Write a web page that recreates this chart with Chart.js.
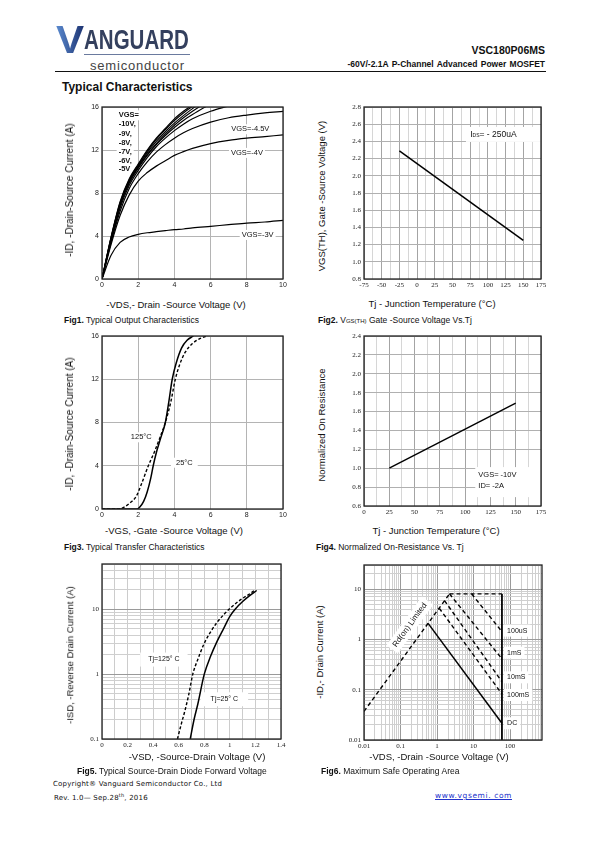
<!DOCTYPE html>
<html>
<head>
<meta charset="utf-8">
<script src="https://cdn.jsdelivr.net/npm/chart.js@4.4.1/dist/chart.umd.min.js"></script>
<style>
  html, body { margin: 0; padding: 0; background: #fff; }
  body { width: 595px; height: 842px; position: relative; overflow: hidden; font-family: "Liberation Sans", Arial, sans-serif; color: #111; }
  .t { position: absolute; white-space: nowrap; line-height: 1; }
  canvas { position: absolute; }
</style>
</head>
<body>

<!-- header -->
<div class="t" style="left:56px;top:20px;font-weight:bold;font-size:39px;background:linear-gradient(90deg,#5b8bd0,#1c3270);-webkit-background-clip:text;background-clip:text;color:transparent;transform:scaleX(1.08);transform-origin:left top;">V</div>
<div class="t" style="left:84px;top:27px;font-weight:bold;font-size:27px;color:#34405e;transform:scaleX(0.76);transform-origin:left top;">ANGUARD</div>
<div style="position:absolute;left:84px;top:54px;width:106px;height:1px;background:#6a7a9e;"></div>
<div class="t" style="left:90px;top:59px;font-size:13px;letter-spacing:0.8px;color:#444;">semiconductor</div>
<div style="position:absolute;left:55px;top:71px;width:491px;height:1px;background:#111;"></div>
<div class="t" style="right:50px;top:45px;font-weight:bold;font-size:10.5px;">VSC180P06MS</div>
<div class="t" style="right:50px;top:59.5px;font-weight:bold;font-size:8.5px;word-spacing:1px;">-60V/-2.1A P-Channel Advanced Power MOSFET</div>
<div class="t" style="left:62px;top:80.5px;font-weight:bold;font-size:12px;">Typical Characteristics</div>

<!-- footer -->
<div class="t" style="left:53px;top:781px;font-family:'DejaVu Sans';font-size:7px;letter-spacing:0.2px;">Copyright® Vanguard Semiconductor Co., Ltd</div>
<div class="t" style="left:54px;top:793px;font-family:'DejaVu Sans';font-size:7px;letter-spacing:0.2px;">Rev. 1.0— Sep.28<sup style="font-size:5px">th</sup>, 2016</div>
<div class="t" style="left:435px;top:792px;font-family:'DejaVu Sans';font-size:7.5px;letter-spacing:0.6px;color:#2233cc;text-decoration:underline;">www.vgsemi. com</div>

<script>
// ---- Fig1 output characteristics (-VDS vs -ID per VGS)
const outVds = [0, 0.5, 1, 1.5, 2, 2.5, 3, 3.5, 4, 4.5, 5, 6, 7, 8, 9, 10];
const outVgs10 = [0, 3.9, 7.2, 9.3, 10.7, 12.0, 13.1, 14.0, 14.9, 15.6, 16.2];
const outVgs9 = [0, 3.85, 7.1, 9.2, 10.6, 11.9, 13.0, 13.9, 14.75, 15.45, 16.05];
const outVgs8 = [0, 3.8, 7.0, 9.1, 10.5, 11.75, 12.8, 13.7, 14.5, 15.2, 15.85, 17.0];
const outVgs7 = [0, 3.7, 6.9, 9.0, 10.4, 11.6, 12.6, 13.5, 14.3, 15.0, 15.6, 16.7];
const outVgs6 = [0, 3.6, 6.8, 8.9, 10.3, 11.5, 12.5, 13.35, 14.1, 14.75, 15.3, 16.3];
const outVgs5 = [0, 3.5, 6.6, 8.7, 10.1, 11.3, 12.3, 13.1, 13.8, 14.4, 14.9, 15.6, 16.1];
const outVgs45 = [0, 3.4, 6.3, 8.4, 9.8, 10.9, 11.8, 12.5, 13.1, 13.6, 14.0, 14.6, 15.0, 15.25, 15.45, 15.6];
const outVgs4 = [0, 3.2, 5.9, 7.8, 9.1, 9.9, 10.5, 11.0, 11.5, 11.85, 12.15, 12.6, 12.9, 13.1, 13.25, 13.4];
const outVgs3 = [0, 2.2, 3.4, 3.9, 4.15, 4.3, 4.4, 4.5, 4.6, 4.65, 4.75, 4.9, 5.05, 5.2, 5.3, 5.45];

// ---- Fig2 threshold voltage vs Tj
const vthTemp = [-25, 150];
const vthVolt = [2.29, 1.25];

// ---- Fig3 transfer characteristics
const tr25Vgs = [0, 1.95, 2.1, 2.3, 2.5, 2.7, 2.83, 3.0, 3.25, 3.5, 3.7, 3.88, 4.1, 4.4, 4.7, 5.05];
const tr25Id = [0, 0, 0.2, 0.7, 1.6, 2.9, 4.0, 5.2, 6.6, 8.0, 10.0, 12.0, 13.5, 14.9, 15.6, 16];
const tr125Vgs = [0, 0.9, 1.2, 1.5, 1.9, 2.2, 2.56, 2.9, 3.2, 3.5, 3.8, 4.05, 4.3, 4.6, 5.0, 5.4, 5.8];
const tr125Id = [0, 0, 0.15, 0.5, 1.2, 2.4, 4.0, 5.3, 6.6, 8.0, 9.9, 12.0, 13.4, 14.5, 15.3, 15.75, 16];

// ---- Fig4 normalized on-resistance vs Tj
const ronTemp = [25, 150];
const ronNorm = [1.0, 1.69];

// ---- Fig5 body diode forward voltage
const sd25Vsd = [0.69, 0.72, 0.75, 0.8, 0.85, 0.9, 0.95, 1.0, 1.05, 1.1, 1.15, 1.21];
const sd25Is = [0.1, 0.2, 0.35, 1.0, 1.9, 3.2, 5.0, 7.8, 10.5, 13.2, 16.0, 19.5];
const sd125Vsd = [0.59, 0.62, 0.65, 0.68, 0.71, 0.75, 0.8, 0.85, 0.9, 0.95, 1.0, 1.05, 1.1, 1.15, 1.19];
const sd125Is = [0.1, 0.17, 0.28, 0.5, 1.0, 1.7, 3.0, 4.5, 6.3, 8.2, 10.3, 12.5, 14.8, 17.0, 19.5];

// ---- Fig6 safe operating area
const soaRdsV = [0.01, 2.2], soaRdsI = [0.037, 8.0];
const soaTopV = [2.2, 60], soaTopI = [8.0, 8.0];
const soa100usV = [8.9, 60], soa100usI = [8.0, 1.42];
const soa1msV = [2.2, 60], soa1msI = [8.0, 0.41];
const soa10msV = [1.6, 60], soa10msI = [5.9, 0.144];
const soa100msV = [1.15, 60], soa100msI = [4.15, 0.082];
const soaDcV = [0.57, 60], soaDcI = [2.08, 0.0215];
const soaVmaxV = [60, 60], soaVmaxI = [0.01, 8.0];

const SANS = '"Liberation Sans", Arial, sans-serif';
const SERIF = '"Liberation Serif", "Times New Roman", serif';

function txt(html, x, y, o) {
  o = o || {};
  const d = document.createElement('div');
  d.className = 't';
  d.innerHTML = html;
  d.style.fontSize = (o.size || 8.5) + 'px';
  d.style.left = x + 'px';
  d.style.top = y + 'px';
  let tf = o.align === 'center' ? 'translate(-50%,-50%)' : 'translateY(-50%)';
  if (o.rot) tf += ' rotate(' + o.rot + 'deg)';
  d.style.transform = tf;
  document.body.appendChild(d);
}

const pts = (xs, ys) => ys.map((y, i) => ({ x: xs[i], y }));

function line(xs, ys, o) {
  o = o || {};
  return {
    data: pts(xs, ys), showLine: true, borderColor: '#000', borderWidth: o.w || 1.4,
    pointRadius: 0, borderDash: o.dash || [], tension: 0,
    cubicInterpolationMode: o.smooth ? 'monotone' : 'default'
  };
}

// text drawn inside the plot at data coordinates
const notesPlugin = {
  id: 'notes',
  beforeDatasetsDraw(chart, args, opts) {
    const ctx = chart.ctx, xs = chart.scales.x, ys = chart.scales.y;
    (opts.items || []).forEach(n => {
      ctx.save();
      if (n.box) {
        const x1 = xs.getPixelForValue(n.box[0]), y1 = ys.getPixelForValue(n.box[1]);
        const x2 = xs.getPixelForValue(n.box[2]), y2 = ys.getPixelForValue(n.box[3]);
        ctx.fillStyle = '#fff';
        ctx.fillRect(x1, y2, x2 - x1, y1 - y2);
        ctx.restore();
        return;
      }
      const parts = n.parts || [[n.text, n.font || opts.font, 0]];
      ctx.translate(xs.getPixelForValue(n.x), ys.getPixelForValue(n.y));
      if (n.rot) ctx.rotate(n.rot * Math.PI / 180);
      let w = 0;
      parts.forEach(p => { ctx.font = p[1]; w += ctx.measureText(p[0]).width; });
      let x0 = n.align === 'center' ? -w / 2 : 0;
      const h = n.h || 8, px = n.padX == null ? 2 : n.padX;
      if (n.bg !== false) {
        ctx.fillStyle = '#fff';
        ctx.fillRect(x0 - px, -h / 2 - 1, w + px * 2, h + 2);
      }
      ctx.fillStyle = '#111';
      ctx.textBaseline = 'middle';
      parts.forEach(p => {
        ctx.font = p[1];
        ctx.fillText(p[0], x0, p[2] || 0);
        x0 += ctx.measureText(p[0]).width;
      });
      ctx.restore();
    });
  }
};

const framePlugin = {
  id: 'frame',
  afterDatasetsDraw(chart) {
    const a = chart.chartArea, ctx = chart.ctx;
    ctx.save();
    ctx.strokeStyle = '#222';
    ctx.lineWidth = 1.3;
    ctx.strokeRect(a.left, a.top, a.right - a.left, a.bottom - a.top);
    ctx.restore();
  }
};

function linAxis(min, max, step, o) {
  o = o || {};
  return {
    type: 'linear', min, max,
    border: { display: false },
    grid: { drawTicks: false, color: o.grid || '#b4b4b4', lineWidth: 1 },
    ticks: {
      stepSize: step, autoSkip: false, maxRotation: 0, padding: o.pad || 3,
      color: '#222', font: { size: 7, family: o.font || SANS },
      callback: o.cb || (v => String(v))
    }
  };
}

const isDecade = v => Math.abs(Math.log10(v) - Math.round(Math.log10(v))) < 1e-6;

function logAxis(min, max) {
  const vals = [];
  for (let e = Math.floor(Math.log10(min)); e <= Math.ceil(Math.log10(max)); e++) {
    for (let k = 1; k < 10; k++) {
      const v = Number((k * Math.pow(10, e)).toPrecision(3));
      if (v >= min * 0.999 && v <= max * 1.001) vals.push(v);
    }
  }
  return {
    type: 'logarithmic', min, max,
    border: { display: false },
    grid: { drawTicks: false, color: c => (c.tick && isDecade(c.tick.value)) ? '#9a9a9a' : '#cfcfcf' },
    afterBuildTicks: s => { s.ticks = vals.map(v => ({ value: v })); },
    ticks: {
      autoSkip: false, maxRotation: 0, padding: 3, color: '#222',
      font: { size: 7, family: SERIF },
      callback: v => isDecade(v) ? String(v) : ''
    }
  };
}

function plot(box, datasets, scales, notes) {
  const yW = 34, xH = 14, pT = 8, pR = 14;
  const c = document.createElement('canvas');
  c.width = box.w + yW + pR;
  c.height = box.h + pT + xH;
  c.style.left = (box.x - yW) + 'px';
  c.style.top = (box.y - pT) + 'px';
  document.body.appendChild(c);
  scales.x.afterFit = s => { s.height = xH; };
  scales.y.afterFit = s => { s.width = yW; };
  scales.x.ticks.padding = 2;
  return new Chart(c, {
    type: 'scatter',
    data: { datasets },
    options: {
      responsive: false, animation: false, devicePixelRatio: 1,
      layout: { padding: { top: pT, right: pR, left: 0, bottom: 0 } },
      plugins: {
        legend: { display: false }, tooltip: { enabled: false },
        notes: { items: notes || [], font: '7.5px ' + SANS }
      },
      scales
    },
    plugins: [notesPlugin, framePlugin]
  });
}

const minor25 = c => (c.tick && c.tick.value % 25 === 0) ? '#a4a4a4' : '#d6d6d6';
const fix1 = v => v.toFixed(1);
const B = 'bold 7.5px ' + SANS;

// Fig1
plot({ x: 102, y: 107, w: 181, h: 172 }, [
  line(outVds, outVgs10, { smooth: true, w: 1.2 }),
  line(outVds, outVgs9, { smooth: true, w: 1.2 }),
  line(outVds, outVgs8, { smooth: true, w: 1.2 }),
  line(outVds, outVgs7, { smooth: true, w: 1.2 }),
  line(outVds, outVgs6, { smooth: true, w: 1.2 }),
  line(outVds, outVgs5, { smooth: true, w: 1.2 }),
  line(outVds, outVgs45, { smooth: true, w: 1.2 }),
  line(outVds, outVgs4, { smooth: true, w: 1.2 }),
  line(outVds, outVgs3, { smooth: true, w: 1.2 })
], { x: linAxis(0, 10, 2), y: linAxis(0, 16, 4) }, [
  { text: 'VGS=', x: 0.92, y: 15.23, font: B },
  { text: '-10V,', x: 0.92, y: 14.4, font: B },
  { text: '-9V,', x: 0.92, y: 13.5, font: B },
  { text: '-8V,', x: 0.92, y: 12.7, font: B },
  { text: '-7V,', x: 0.92, y: 11.8, font: B },
  { text: '-6V,', x: 0.92, y: 11.0, font: B },
  { text: '-5V', x: 0.92, y: 10.2, font: B },
  { text: 'VGS=-4.5V', x: 8.19, y: 13.93, align: 'center' },
  { text: 'VGS=-4V', x: 8.01, y: 11.73, align: 'center' },
  { text: 'VGS=-3V', x: 8.6, y: 4.1, align: 'center' }
]);
txt('-ID, -Drain-Source Current (A)', 70, 190, { size: 10, align: 'center', rot: -90 });
txt('-VDS,- Drain -Source Voltage (V)', 176, 305, { size: 9.5, align: 'center' });
txt('<b>Fig1.</b> Typical Output Characteristics', 64, 320);

// Fig2
plot({ x: 364, y: 107, w: 177, h: 172 }, [
  line(vthTemp, vthVolt, { w: 1.5 })
], {
  x: linAxis(-75, 175, 12.5, { font: SERIF, grid: minor25, cb: v => v % 25 === 0 ? String(v) : '' }),
  y: linAxis(0.8, 2.8, 0.2, { font: SERIF, grid: '#b0b0b0', cb: fix1 })
}, [
  { box: [69, 2.394, 175, 2.568] },
  { x: 75, y: 2.48, bg: false, parts: [['I', '8.5px ' + SANS, 0], ['DS', '5px ' + SANS, 1.5], ['= - 250uA', '8.5px ' + SANS, 0]] }
]);
txt('VGS(TH), Gate -Source Voltage (V)', 322, 196, { size: 9.5, align: 'center', rot: -90 });
txt('Tj - Junction Temperature (°C)', 432, 304, { size: 9.5, align: 'center' });
txt('<b>Fig2.</b> V<span style="font-size:6px">GS(TH)</span> Gate -Source Voltage Vs.Tj', 318, 320);

// Fig3
plot({ x: 102, y: 336, w: 181, h: 173 }, [
  line(tr25Vgs, tr25Id, { smooth: true, w: 1.5 }),
  line(tr125Vgs, tr125Id, { smooth: true, w: 1.4, dash: [3, 2] })
], { x: linAxis(0, 10, 2), y: linAxis(0, 16, 4) }, [
  { text: '125°C', x: 2.17, y: 6.63, align: 'center' },
  { text: '25°C', x: 4.55, y: 4.28, align: 'center', padX: 5 }
]);
txt('-ID, -Drain-Source Current (A)', 70, 424, { size: 10, align: 'center', rot: -90 });
txt('-VGS, -Gate -Source Voltage (V)', 174, 531, { size: 9.5, align: 'center' });
txt('<b>Fig3.</b> Typical Transfer Characteristics', 64, 547);

// Fig4
plot({ x: 364, y: 336, w: 177, h: 170 }, [
  line(ronTemp, ronNorm, { w: 1.4 })
], {
  x: linAxis(0, 175, 12.5, { font: SERIF, grid: minor25, cb: v => v % 25 === 0 ? String(v) : '' }),
  y: linAxis(0.6, 2.4, 0.2, { font: SERIF, grid: '#b0b0b0', cb: fix1 })
}, [
  { box: [110, 0.694, 175, 1.012] },
  { text: 'VGS= -10V', x: 113, y: 0.93, bg: false },
  { text: 'ID= -2A', x: 113, y: 0.815, bg: false }
]);
txt('Normalized On Resistance', 322, 425, { size: 9.5, align: 'center', rot: -90 });
txt('Tj - Junction Temperature (°C)', 436, 531, { size: 9.5, align: 'center' });
txt('<b>Fig4.</b> Normalized On-Resistance Vs. Tj', 316, 547);

// Fig5
plot({ x: 102, y: 564, w: 179, h: 175 }, [
  line(sd25Vsd, sd25Is, { smooth: true, w: 1.5 }),
  line(sd125Vsd, sd125Is, { smooth: true, w: 1.4, dash: [3, 2] })
], {
  x: linAxis(0, 1.4, 0.1, { font: SERIF, grid: '#cccccc', cb: (v, i) => i % 2 === 0 ? String(Number(v.toFixed(1))) : '' }),
  y: logAxis(0.1, 50)
}, [
  { text: 'Tj=125° C', x: 0.484, y: 1.68, align: 'center', font: '7px ' + SANS, padX: 8, h: 12 },
  { text: 'Tj=25° C', x: 0.957, y: 0.41, align: 'center', font: '7px ' + SANS, padX: 10, h: 12 }
]);
txt('-ISD, -Reverse Drain Current (A)', 70, 655, { size: 9.5, align: 'center', rot: -90 });
txt('-VSD, -Source-Drain Voltage (V)', 197, 757, { size: 9.5, align: 'center' });
txt('<b>Fig5.</b> Typical Source-Drain Diode Forward Voltage', 77, 771);

// Fig6
const D = [4, 3];
plot({ x: 364, y: 565, w: 178, h: 175 }, [
  line(soaRdsV, soaRdsI, { dash: D }),
  line(soaTopV, soaTopI, { dash: D }),
  line(soa100usV, soa100usI, { dash: D }),
  line(soa1msV, soa1msI, { dash: D }),
  line(soa10msV, soa10msI, { dash: D }),
  line(soa100msV, soa100msI, { dash: D }),
  line(soaDcV, soaDcI, { w: 1.5 }),
  line(soaVmaxV, soaVmaxI, { w: 1.8 })
], { x: logAxis(0.01, 750), y: logAxis(0.01, 30) }, [
  { text: 'Rd(on) Limited', x: 0.18, y: 1.93, align: 'center', rot: -54, font: '8px ' + SANS, padX: 4, h: 12 },
  { text: '100uS', x: 83, y: 1.49, font: '7px ' + SANS, padX: 3, h: 10 },
  { text: '1mS', x: 83, y: 0.543, font: '7px ' + SANS, padX: 3, h: 10 },
  { text: '10mS', x: 83, y: 0.176, font: '7px ' + SANS, padX: 3, h: 10 },
  { text: '100mS', x: 83, y: 0.0784, font: '7px ' + SANS, padX: 3, h: 10 },
  { text: 'DC', x: 83, y: 0.0215, font: '7px ' + SANS, padX: 3, h: 10 }
]);
txt('-ID,- Drain Current (A)', 320, 652, { size: 9.5, align: 'center', rot: -90 });
txt('-VDS, -Drain -Source Voltage (V)', 439, 757, { size: 9.5, align: 'center' });
txt('<b>Fig6.</b> Maximum Safe Operating Area', 321, 771);
</script>
</body>
</html>
